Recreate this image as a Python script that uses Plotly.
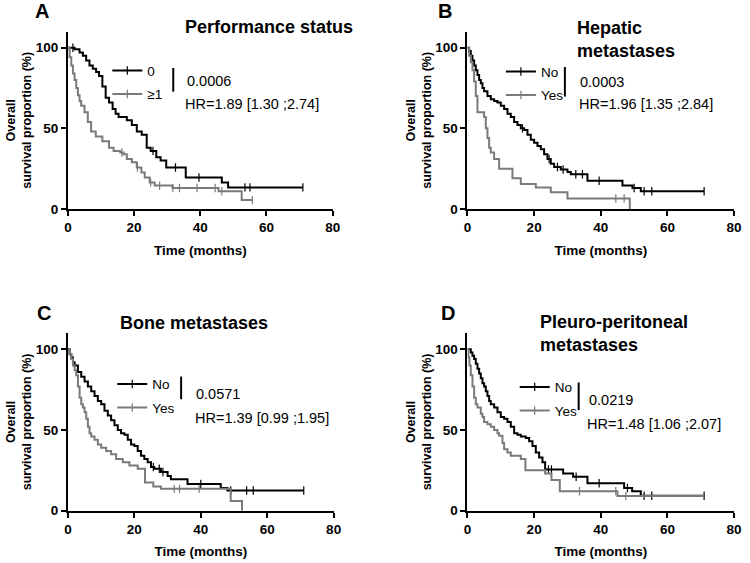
import numpy as np
import plotly.graph_objects as go

# ---- data (time in months, survival in %) ----
# A: performance status, 0 vs >=1
ps0_t = [0, 2, 3.5, 4.5, 5.5, 6.5, 7.5, 8.5, 9.4, 10.4, 11.4, 12.4, 13.5, 14.4, 15.3, 17.8,
         19.3, 20.8, 22.3, 23.8, 25, 26.7, 28, 29.7, 35.6, 46.5, 48.4]
ps0_s = [100, 99, 97, 95, 92, 89, 87, 85, 82.5, 76, 69, 66, 62, 59, 57, 55,
         52, 48, 46, 38, 36, 32, 30, 25.7, 19.5, 16.5, 13.4]
ps0_end = 71
ps0_cens = [1.5, 25.7, 32.5, 39.6, 53.5, 55, 71]

ps1_t = [0, 0.5, 1, 1.5, 2, 2.5, 3, 3.5, 4, 5, 6, 7, 8.4, 10.4, 12.4, 13.8, 15.8, 16.8,
         17.8, 19.3, 20.8, 22.2, 23.2, 24.7, 26.2, 31.6, 45.5, 52.5]
ps1_s = [100, 94, 89, 84, 80, 75, 70.5, 67, 64, 60, 54, 48, 45, 42, 38, 36, 35, 34,
         31, 29, 25.7, 22.6, 19.5, 16.5, 14.5, 13, 11, 5.5]
ps1_end = 55.7
ps1_cens = [16.3, 21, 25, 27.7, 31.7, 33.7, 39, 44.5, 46.5, 55.7]

# B: hepatic metastases, No vs Yes
hepN_t = [0, 0.5, 1, 1.5, 2, 2.5, 3, 3.5, 4, 4.5, 5, 6, 7, 8, 9, 10, 11, 12, 13, 14, 15, 16,
          17, 18, 19, 20, 21, 22, 23, 24, 25, 26, 28, 30, 31, 36, 46.5, 49.5, 52]
hepN_s = [100, 98, 95, 92, 89, 86, 83, 80, 78, 75, 73, 70, 68, 67, 66, 64, 62, 59, 57, 54, 52, 50,
          49, 46, 43, 41, 39, 37, 34, 31, 28, 26, 24.5, 23, 21.5, 17.5, 14.5, 13, 11]
hepN_end = 71
hepN_cens = [16.5, 24.5, 27, 28.7, 32.5, 34.5, 39.5, 50, 53, 55.3, 71]

hepY_t = [0, 0.5, 1, 1.5, 2, 2.5, 3, 5, 5.5, 6, 6.5, 7, 8, 9.5, 13.5, 16, 20.5, 25, 30, 48.7]
hepY_s = [100, 95, 91, 86, 79, 70, 60, 57, 50, 44, 38, 35, 31, 25, 19, 15.5, 13.4, 10.4, 6.5, 0]
hepY_end = 48.7
hepY_cens = [44.5, 47]

# C: bone metastases, No vs Yes
boneN_t = [0, 0.5, 1, 1.5, 2, 3, 4, 5, 6, 7, 8, 9, 10, 11, 12, 13, 14, 15, 16, 17, 18, 19, 20,
           21, 22, 23, 24, 25, 26, 28, 30, 31, 36, 46, 48]
boneN_s = [100, 97, 95, 92, 90, 86, 83, 80, 77, 74, 71, 68, 66, 62, 59, 56, 53, 50, 48, 47, 44, 41, 40,
           37, 34, 32, 30, 27, 26, 24, 21.5, 19.5, 16.5, 14, 12.5]
boneN_end = 71
boneN_cens = [25.7, 27.5, 28.6, 40, 49, 53.8, 55.8, 71]

boneY_t = [0, 0.5, 1, 1.5, 2, 2.5, 3, 3.5, 4, 4.5, 5, 5.5, 6, 6.5, 7, 8, 9, 10, 11.5, 13, 14.5,
           16.5, 18.5, 21, 23.2, 25.7, 28, 49, 52.4]
boneY_s = [100, 97, 94, 90, 87, 84, 77, 70, 66, 64, 61, 57, 52, 48, 46, 44, 41, 39, 37, 35, 32,
           30, 28, 26, 17.5, 15, 13.5, 6, 0]
boneY_end = 52.4
boneY_cens = [32, 33.6, 39.5]

# D: pleuro-peritoneal metastases, No vs Yes
plN_t = [0, 1, 1.5, 2, 2.5, 3, 3.5, 4, 4.5, 5, 5.5, 6, 6.5, 7, 8, 9, 10, 11, 12, 13, 14, 15, 16,
         17.5, 18.5, 19.5, 20.5, 21.5, 22.5, 23.3, 28.7, 31.7, 36, 47, 49.4, 52]
plN_s = [100, 98, 96, 94, 91, 88, 85, 82, 79, 77, 74, 71, 68, 66, 64, 61, 58, 57, 55, 52, 48, 47, 46,
         45, 43, 40, 36, 33, 30, 25.5, 23, 21, 17, 14, 12, 9.2]
plN_end = 71
plN_cens = [24.3, 25.2, 32.6, 39.5, 48, 53, 55.3, 71]

plY_t = [0, 0.3, 0.6, 1, 1.5, 2, 2.5, 3, 4, 4.5, 5, 6, 7, 8, 9, 9.5, 10.5, 11, 12, 13, 16, 17.4,
         23.3, 25.2, 27.7, 45]
plY_s = [100, 95, 90, 84, 77, 70, 66, 64, 60, 58, 55, 53.5, 52, 50, 48, 46.5, 42, 38, 36, 34, 32, 25,
         23, 19, 12, 9]
plY_end = 71
plY_cens = [33.6, 44.5, 47.5]

panels = [
    dict(letter="A", title="Performance status", labels=["0", "≥1"], p="0.0006",
         hr="HR=1.89 [1.30 ;2.74]",
         curves=[(ps0_t, ps0_s, ps0_end, ps0_cens), (ps1_t, ps1_s, ps1_end, ps1_cens)]),
    dict(letter="B", title="Hepatic<br>metastases", labels=["No", "Yes"], p="0.0003",
         hr="HR=1.96 [1.35 ;2.84]",
         curves=[(hepN_t, hepN_s, hepN_end, hepN_cens), (hepY_t, hepY_s, hepY_end, hepY_cens)]),
    dict(letter="C", title="Bone metastases", labels=["No", "Yes"], p="0.0571",
         hr="HR=1.39 [0.99 ;1.95]",
         curves=[(boneN_t, boneN_s, boneN_end, boneN_cens), (boneY_t, boneY_s, boneY_end, boneY_cens)]),
    dict(letter="D", title="Pleuro-peritoneal<br>metastases", labels=["No", "Yes"], p="0.0219",
         hr="HR=1.48 [1.06 ;2.07]",
         curves=[(plN_t, plN_s, plN_end, plN_cens), (plY_t, plY_s, plY_end, plY_cens)]),
]

FONT = "Liberation Sans, Arial, sans-serif"
W, H = 750, 563
colors = ["#000000", "#7a7a7a"]


def px(x):
    return x / W


def py(y):
    return 1 - y / H


# layout boxes in pixels: plot x0, x1, y top, y bottom
boxes = [(65, 334, 32, 212), (471, 742, 32, 212), (65, 335, 338, 518), (471, 742, 338, 518)]
# legend / text anchors in pixels
letter_pos = [(29, 11), (439, 11), (31, 318), (442, 318)]
title_pos = [(269, 27, "center"), (580, 40, "left"), (193, 328, "center"), (543, 338, "left")]
legend_pos = [(105, 56), (505, 57), (110, 374), (519, 377)]
bar_pos = [(172, 69, 93), (570, 68, 98), (180, 382, 405), (584, 388, 416)]
p_pos = [(184, 82), (583, 83), (193, 400), (592, 406)]
hr_pos = [(182, 105), (582, 106), (192, 424), (590, 430)]

fig = go.Figure()
annotations = []
shapes = []
axis_common = dict(showline=True, linecolor="black", linewidth=2, ticks="outside",
                   ticklen=5, tickwidth=2, tickcolor="black", showgrid=False, zeroline=False,
                   tickfont=dict(family=FONT, size=13.5, color="black", weight="bold"))

for i, pan in enumerate(panels):
    n = "" if i == 0 else str(i + 1)
    leg = "legend" + n
    for j, (t, s, end, cens) in enumerate(pan["curves"]):
        xs = list(t) + [end]
        ys = list(s) + [s[-1]]
        fig.add_trace(go.Scatter(x=xs, y=ys, mode="lines", line=dict(color=colors[j], width=2, shape="hv"),
                                 xaxis="x" + n, yaxis="y" + n, showlegend=False, hoverinfo="skip"))
        idx = np.searchsorted(np.array(t), np.array(cens), side="right") - 1
        cy = np.array(s)[idx]
        fig.add_trace(go.Scatter(x=cens, y=cy, mode="markers",
                                 marker=dict(symbol="line-ns-open", size=6, color=colors[j],
                                             line=dict(color=colors[j], width=1.2)),
                                 xaxis="x" + n, yaxis="y" + n, showlegend=False, hoverinfo="skip"))
        fig.add_trace(go.Scatter(x=[None], y=[None], mode="lines+markers", name=pan["labels"][j],
                                 line=dict(color=colors[j], width=2), legendgroup="g%d%d" % (i, j),
                                 marker=dict(symbol="line-ns-open", size=6, color=colors[j],
                                             line=dict(color=colors[j], width=1.2)),
                                 xaxis="x" + n, yaxis="y" + n, legend=leg))

    x0, x1, yt, yb = boxes[i]
    fig.update_layout({
        "xaxis" + n: dict(axis_common, domain=[px(x0), px(x1)], range=[0, 80], tickvals=[0, 20, 40, 60, 80],
                          anchor="y" + n,
                          title=dict(text="Time (months)", standoff=11,
                                     font=dict(family=FONT, size=13.5, color="black", weight="bold"))),
        "yaxis" + n: dict(axis_common, domain=[py(yb), py(yt)], range=[0, 110], tickvals=[0, 50, 100],
                          anchor="x" + n,
                          title=dict(text="Overall<br>survival proportion (%)", standoff=1,
                                     font=dict(family=FONT, size=12.5, color="black", weight="bold"))),
        leg: dict(x=px(legend_pos[i][0]), y=py(legend_pos[i][1]), xanchor="left", yanchor="top",
                  bgcolor="rgba(0,0,0,0)", itemwidth=30, tracegroupgap=3,
                  font=dict(family=FONT, size=13.5, color="black")),
    })

    lx, ly = letter_pos[i]
    annotations.append(dict(text=pan["letter"], x=px(lx), y=py(ly), xref="paper", yref="paper",
                            xanchor="left", yanchor="middle", showarrow=False,
                            font=dict(family=FONT, size=20, color="black", weight="bold")))
    tx, ty, al = title_pos[i]
    annotations.append(dict(text=pan["title"], x=px(tx), y=py(ty), xref="paper", yref="paper",
                            xanchor=al, yanchor="middle", align="left", showarrow=False,
                            font=dict(family=FONT, size=18, color="black", weight="bold")))
    annotations.append(dict(text=pan["p"], x=px(p_pos[i][0]), y=py(p_pos[i][1]), xref="paper", yref="paper",
                            xanchor="left", yanchor="middle", showarrow=False,
                            font=dict(family=FONT, size=14.5, color="black")))
    annotations.append(dict(text=pan["hr"], x=px(hr_pos[i][0]), y=py(hr_pos[i][1]), xref="paper", yref="paper",
                            xanchor="left", yanchor="middle", showarrow=False,
                            font=dict(family=FONT, size=14.5, color="black")))
    bx, by0, by1 = bar_pos[i]
    shapes.append(dict(type="line", xref="paper", yref="paper", x0=px(bx), x1=px(bx), y0=py(by0), y1=py(by1),
                       line=dict(color="black", width=2)))

fig.update_layout(width=W, height=H, margin=dict(l=0, r=0, t=0, b=0),
                  paper_bgcolor="white", plot_bgcolor="white",
                  font=dict(family=FONT, color="black"),
                  annotations=annotations, shapes=shapes)

# drop the default 8px page margin so the figure fills the window exactly
fig.write_html("out.html", config={"displayModeBar": False},
               post_script="document.body.style.margin='0';")
